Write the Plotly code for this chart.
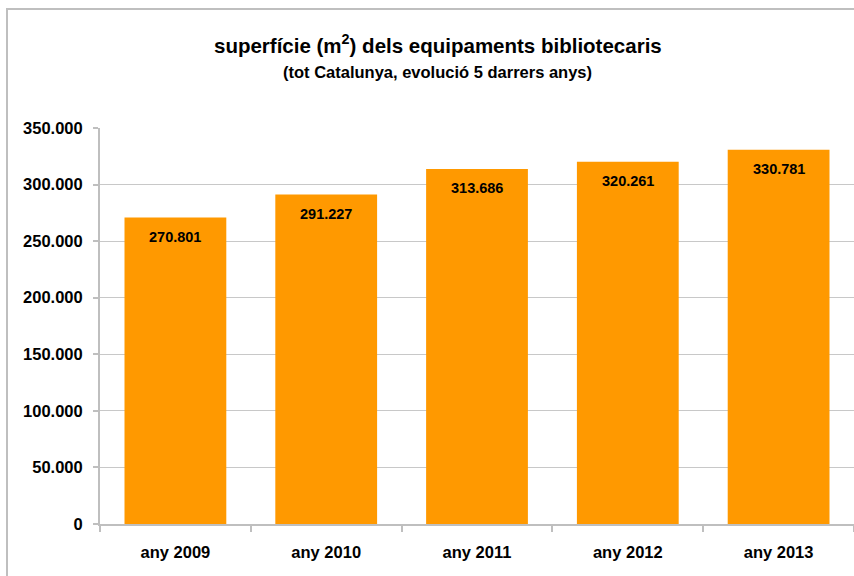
import plotly.graph_objects as go

categories = ["any 2009", "any 2010", "any 2011", "any 2012", "any 2013"]
values = [270801, 291227, 313686, 320261, 330781]
y_ticks = [0, 50000, 100000, 150000, 200000, 250000, 300000, 350000]

def fmt(v):
    return f"{v:,}".replace(",", ".")

FONT = "Liberation Sans, Arial, sans-serif"
W, H = 854, 576
L, R, T, B = 100, 0, 128, 52
pw, ph = W - L - R, H - T - B

fig = go.Figure()
fig.add_trace(go.Bar(
    x=categories, y=values, marker=dict(color="#FF9900", line=dict(width=0)),
    width=0.675, hoverinfo="skip",
))

for c, v in zip(categories, values):
    fig.add_annotation(x=c, y=v, text=f"<b>{fmt(v)}</b>", showarrow=False,
                       yanchor="middle", yshift=-19,
                       font=dict(family=FONT, size=14.5, color="#000000"))

cx = 437.5 - (L + pw / 2)
fig.add_annotation(xref="paper", yref="paper", x=0.5, y=1,
                   text="<b>superfície (m<sup>2</sup>) dels equipaments bibliotecaris</b>",
                   showarrow=False, xanchor="center", yanchor="middle",
                   yshift=T - 44, xshift=cx,
                   font=dict(family=FONT, size=20.5, color="#000000"))
fig.add_annotation(xref="paper", yref="paper", x=0.5, y=1,
                   text="<b>(tot Catalunya, evolució 5 darrers anys)</b>",
                   showarrow=False, xanchor="center", yanchor="middle",
                   yshift=T - 72, xshift=cx,
                   font=dict(family=FONT, size=16.5, color="#000000"))

# outer frame
fig.add_shape(type="rect", xref="paper", yref="paper",
              x0=(7 - L) / pw, x1=(W + 5 - L) / pw,
              y0=-(H + 5 - T - ph) / ph, y1=1 + (T - 9) / ph,
              line=dict(color="#BFBFBF", width=2), layer="below")

tickfont = dict(family=FONT, size=16.5, color="#000000", weight="bold")

fig.update_layout(
    width=W, height=H,
    margin=dict(l=L, r=R, t=T, b=B, pad=0),
    paper_bgcolor="white", plot_bgcolor="white",
    separators=",.",
    showlegend=False,
    font=dict(family=FONT, size=12, color="#000000"),
    xaxis=dict(
        showgrid=False, showline=True, linecolor="#BFBFBF", linewidth=2,
        ticks="outside", tickson="boundaries", tickcolor="#BFBFBF", ticklen=6, tickwidth=2,
        tickfont=tickfont, fixedrange=True, ticklabelstandoff=12,
    ),
    yaxis=dict(
        range=[0, 350000], tickvals=y_ticks, ticktext=[fmt(v) for v in y_ticks],
        showgrid=True, gridcolor="#C8C8C8", gridwidth=1,
        showline=True, linecolor="#BFBFBF", linewidth=2,
        ticks="outside", tickcolor="#BFBFBF", ticklen=5, tickwidth=2,
        tickfont=tickfont, ticklabelstandoff=7,
        zeroline=False, fixedrange=True,
    ),
)

fig.write_html("out.html",
               config={"displayModeBar": False, "staticPlot": True},
               post_script="document.body.style.margin='0';document.body.style.overflow='hidden';")
